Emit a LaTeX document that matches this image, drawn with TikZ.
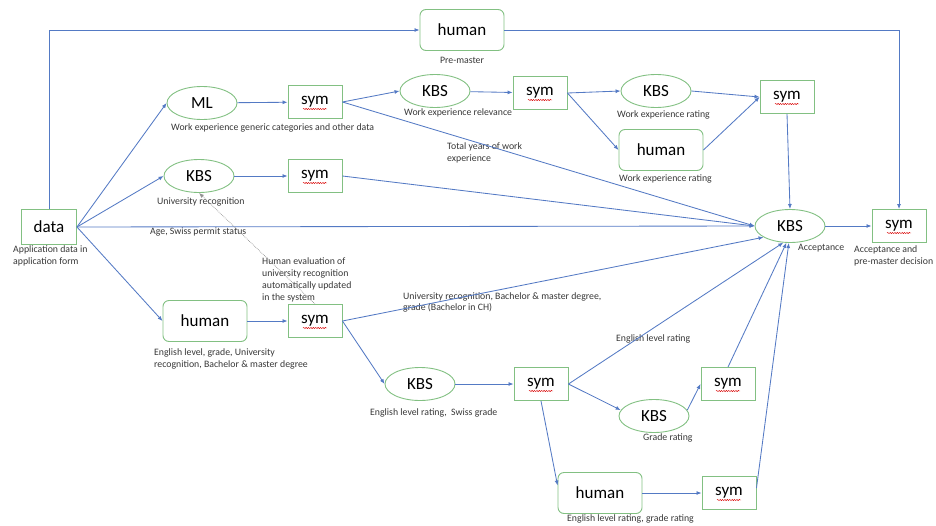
\documentclass[tikz,border=0pt]{standalone}
\usepackage{fontspec}
\setmainfont{Carlito}
\usetikzlibrary{shapes.geometric,arrows.meta,decorations.pathmorphing}
\definecolor{nodegreen}{RGB}{130,192,130}
\definecolor{linkblue}{RGB}{84,122,196}
\definecolor{labelgray}{RGB}{55,55,55}

\begin{document}
\begin{tikzpicture}[x=1pt,y=-1pt,
  every node/.style={font=\fontsize{17}{20}\selectfont, text=black},
  box/.style={draw=nodegreen, line width=0.9pt, rectangle, inner sep=0pt},
  symbox/.style={box, minimum width=54pt, minimum height=33pt,
    path picture={\draw[red!85!black, line width=0.45pt, decorate,
      decoration={snake, amplitude=0.6pt, segment length=2.4pt}]
      ([xshift=-12pt,yshift=-7pt]path picture bounding box.center) -- ++(24pt,0);}},
  humanbox/.style={box, rounded corners=6pt, minimum width=84pt, minimum height=41pt},
  oval/.style={draw=nodegreen, line width=0.9pt, ellipse, inner sep=0pt,
    minimum width=70pt, minimum height=33pt},
  lbl/.style={font=\fontsize{9.8}{12}\selectfont, text=labelgray, align=left,
    inner sep=0pt, anchor=west},
  link/.style={draw=linkblue, line width=0.85pt, -{Latex[length=5pt,width=4pt]}},
  hint/.style={draw=gray!85, line width=0.7pt, densely dotted, -{Latex[length=5pt,width=4pt]}},
]
\useasboundingbox (0,0) rectangle (936,525);

% ---- nodes ----
\node[box, minimum width=55pt, minimum height=35pt] (data) at (49,227) {data};
\node[humanbox] (hp)  at (462,30)  {human};
\node[oval]     (ml)  at (202,103) {ML};
\node[symbox]   (s1)  at (315,102) {sym};
\node[oval]     (krel) at (435,91) {KBS};
\node[symbox]   (s2)  at (540,93)  {sym};
\node[oval]     (kwr) at (656,91)  {KBS};
\node[humanbox] (hwr) at (661,150) {human};
\node[symbox]   (s3)  at (787,97)  {sym};
\node[oval]     (kur) at (199,176) {KBS};
\node[symbox]   (su)  at (315,176) {sym};
\node[oval]     (acc) at (790,226) {KBS};
\node[symbox]   (sf)  at (899,226) {sym};
\node[humanbox] (hl)  at (205,321) {human};
\node[symbox]   (sb)  at (315,321) {sym};
\node[oval]     (kel) at (420,384) {KBS};
\node[symbox]   (sm)  at (541,384) {sym};
\node[oval]     (kgr) at (654,416) {KBS};
\node[symbox]   (sg)  at (728,384) {sym};
\node[humanbox] (hb)  at (600,493) {human};
\node[symbox]   (sr)  at (729,493) {sym};

% ---- labels ----
\node[lbl] (ldata) at (13,256) {Application data in\\application form};
\node[lbl, anchor=center] (lhp) at (462,60) {Pre-master};
\node[lbl] (lml)  at (171,128) {Work experience generic categories and other data};
\node[lbl] (lrel) at (404,113) {Work experience relevance};
\node[lbl] (ltot) at (447,153) {Total years of work\\experience};
\node[lbl] (lkwr) at (617,115) {Work experience rating};
\node[lbl] (lhwr) at (619,179) {Work experience rating};
\node[lbl] (lkur) at (157,202) {University recognition};
\node[lbl] (lage) at (150,232) {Age, Swiss permit status};
\node[lbl] (lhev) at (262,280) {Human evaluation of\\university recognition\\automatically updated\\in the system};
\node[lbl, font=\fontsize{9.8}{11}\selectfont] (luni) at (403,302) {University recognition, Bachelor \& master degree,\\grade (Bachelor in CH)};
\node[lbl] (lhl)  at (154,359) {English level, grade, University\\recognition, Bachelor \& master degree};
\node[lbl] (lkel) at (370,413) {English level rating,\ \ Swiss grade};
\node[lbl] (lsm)  at (616,339) {English level rating};
\node[lbl] (lkgr) at (643,438) {Grade rating};
\node[lbl] (lhb)  at (567,519) {English level rating, grade rating};
\node[lbl] (lacc) at (798,248) {Acceptance};
\node[lbl] (lsf)  at (854,256) {Acceptance and\\pre-master decision};

% ---- connectors ----
\draw[link] (data.north) |- (hp.west);
\draw[link] (hp.east) -| (sf.north);
\draw[link] (data.east) -- (ml.west);
\draw[link] (data.east) -- (kur.west);
\draw[link] (data.east) -- (acc.west);
\draw[link] (data.east) -- (hl.west);

\draw[link] (ml) -- (s1);
\draw[link] (s1.east) -- (krel.west);
\draw[link] (s1.east) -- (acc.west);
\draw[link] (krel) -- (s2);
\draw[link] (s2.east) -- (kwr.west);
\draw[link] (s2.east) -- (hwr.west);
\draw[link] (kwr.east) -- (s3.west);
\draw[link] (hwr.east) -- (s3.west);
\draw[link] (s3.south) -- (acc.north);

\draw[link] (kur) -- (su);
\draw[link] (su.east) -- (acc.west);
\draw[link] (acc) -- (sf);

\draw[link] (hl) -- (sb);
\draw[link] (sb.east) -- (acc.203);
\draw[link] (sb.east) -- (kel.west);
\draw[link] (kel) -- (sm);
\draw[link] (sm.east) -- (acc.248);
\draw[link] (sm.east) -- (kgr.170);
\draw[link] (sm.south) -- (hb.170);
\draw[link] (kgr.10) -- (sg.west);
\draw[link] (sg.north) -- (acc.258);
\draw[link] (hb) -- (sr);
\draw[link] (sr.10) -- (acc.266);

\draw[hint] (sb.north) -- (kur.south);
\end{tikzpicture}
\end{document}
